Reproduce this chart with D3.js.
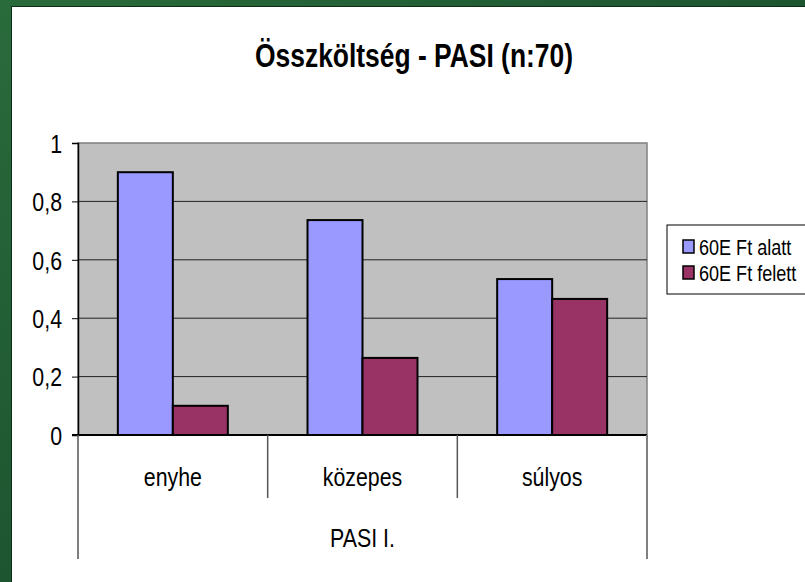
<!DOCTYPE html>
<html><head><meta charset="utf-8">
<script src="https://cdn.jsdelivr.net/npm/d3@7"></script>
<style>html,body{margin:0;padding:0;background:#fff;overflow:hidden}</style>
</head><body>
<script>
const title = "Összköltség - PASI (n:70)";
const categories = ["enyhe", "közepes", "súlyos"];
const groupLabel = "PASI I.";
const seriesNames = ["60E Ft alatt", "60E Ft felett"];
const seriesAlatt = [0.9, 0.736, 0.534];
const seriesFelett = [0.1, 0.264, 0.466];
const yTicks = [0, 0.2, 0.4, 0.6, 0.8, 1];
const yTickLabels = ["0", "0,2", "0,4", "0,6", "0,8", "1"];
const colors = ["#9999FF", "#993366"];

const W = 805, H = 582;
const FONT = "'Liberation Sans Narrow','Arial Narrow','Liberation Sans',Arial,sans-serif";
const NARROW = 0.82;
const svg = d3.select("body").append("svg").attr("width", W).attr("height", H);

function condense(sel, f) {
  sel.each(function(){
    const w = this.getComputedTextLength();
    d3.select(this).attr("textLength", w * (f||NARROW)).attr("lengthAdjust","spacingAndGlyphs");
  });
}

// slide background
const defs = svg.append("defs");
const g1 = defs.append("linearGradient").attr("id","gr").attr("x1","0").attr("y1","0").attr("x2","1").attr("y2","1");
g1.append("stop").attr("offset","0").attr("stop-color","#2a6b3c");
g1.append("stop").attr("offset","0.5").attr("stop-color","#1d5530");
g1.append("stop").attr("offset","1").attr("stop-color","#2f7444");
svg.append("rect").attr("width",W).attr("height",H).attr("fill","url(#gr)");
svg.append("rect").attr("x",11).attr("y",6).attr("width",W).attr("height",H).attr("fill","#0c2e17");
svg.append("rect").attr("x",12).attr("y",7).attr("width",W).attr("height",H).attr("fill","#ffffff");

const plot = {l:78, t:143, r:647, b:435};
const x0 = d3.scaleBand().domain(categories).range([plot.l, plot.r]).padding(0);
const x1 = d3.scaleBand().domain(seriesNames).range([0, x0.bandwidth()]).paddingInner(0).paddingOuter(0.7245);
const y = d3.scaleLinear().domain([0,1]).range([plot.b, plot.t]);

// title
svg.append("text").attr("x", 414).attr("y", 67).attr("text-anchor","middle")
  .attr("font-family", FONT).attr("font-weight","bold").attr("font-size", 33)
  .attr("textLength", 318).attr("lengthAdjust","spacingAndGlyphs")
  .text(title);

// plot background
svg.append("rect").attr("x",plot.l).attr("y",plot.t).attr("width",plot.r-plot.l).attr("height",plot.b-plot.t)
  .attr("fill","#C0C0C0").attr("stroke","#808080").attr("stroke-width",1.5);

// gridlines
svg.append("g").selectAll("line").data(yTicks.filter(d=>d>0 && d<1)).join("line")
  .attr("x1",plot.l).attr("x2",plot.r).attr("y1",d=>y(d)).attr("y2",d=>y(d))
  .attr("stroke","#222").attr("stroke-width",1);

// y axis
const yAxis = d3.axisLeft(y).tickValues(yTicks).tickSize(6).tickFormat((d,i)=>yTickLabels[i]);
const ya = svg.append("g").attr("transform",`translate(${plot.l},0)`).call(yAxis);
ya.select(".domain").attr("stroke","#000").attr("stroke-width",1.5);
ya.selectAll(".tick line").attr("stroke","#000");
ya.selectAll(".tick text").attr("font-family",FONT).attr("font-size",26).attr("fill","#000").attr("x",-16).attr("dy","0.36em")
  .call(condense);

// bars
const rows = categories.map((c,i)=>({cat:c, vals:[seriesAlatt[i], seriesFelett[i]]}));
const gb = svg.append("g");
rows.forEach(r=>{
  gb.append("g").attr("transform",`translate(${x0(r.cat)},0)`)
    .selectAll("rect").data(r.vals.map((v,j)=>({s:seriesNames[j], v, j}))).join("rect")
    .attr("x",d=>x1(d.s)).attr("width",x1.bandwidth())
    .attr("y",d=>y(d.v)).attr("height",d=>y(0)-y(d.v))
    .attr("fill",d=>colors[d.j]).attr("stroke","#000").attr("stroke-width",2);
});

// x axis line
svg.append("line").attr("x1",plot.l-6).attr("x2",plot.r).attr("y1",plot.b).attr("y2",plot.b)
  .attr("stroke","#000").attr("stroke-width",2);

// category separators
const seps = categories.slice(1).map(c=>x0(c));
svg.append("g").selectAll("line").data(seps).join("line")
  .attr("x1",d=>d).attr("x2",d=>d).attr("y1",plot.b).attr("y2",498)
  .attr("stroke","#555").attr("stroke-width",1.5);
svg.append("g").selectAll("line").data([plot.l, plot.r]).join("line")
  .attr("x1",d=>d).attr("x2",d=>d).attr("y1",plot.b).attr("y2",559)
  .attr("stroke",(d,i)=>i===0?"#555":"#808080").attr("stroke-width",(d,i)=>i===0?1.5:2);

// category labels
svg.append("g").selectAll("text").data(categories).join("text")
  .attr("x",d=>x0(d)+x0.bandwidth()/2).attr("y",486).attr("text-anchor","middle")
  .attr("font-family",FONT).attr("font-size",26).text(d=>d).call(condense);
svg.append("text").attr("x",(plot.l+plot.r)/2).attr("y",547).attr("text-anchor","middle")
  .attr("font-family",FONT).attr("font-size",26).text(groupLabel).call(condense);

// legend
const lg = svg.append("g");
lg.append("rect").attr("x",667).attr("y",225).attr("width",160).attr("height",69)
  .attr("fill","#fff").attr("stroke","#000").attr("stroke-width",1);
const ly = [247, 273];
seriesNames.forEach((s,i)=>{
  lg.append("rect").attr("x",683).attr("y",ly[i]-7).attr("width",11).attr("height",13)
    .attr("fill",colors[i]).attr("stroke","#000").attr("stroke-width",1.5);
  lg.append("text").attr("x",699).attr("y",ly[i]+8).attr("font-family",FONT).attr("font-size",22).text(s).call(condense);
});
</script>
</body></html>
